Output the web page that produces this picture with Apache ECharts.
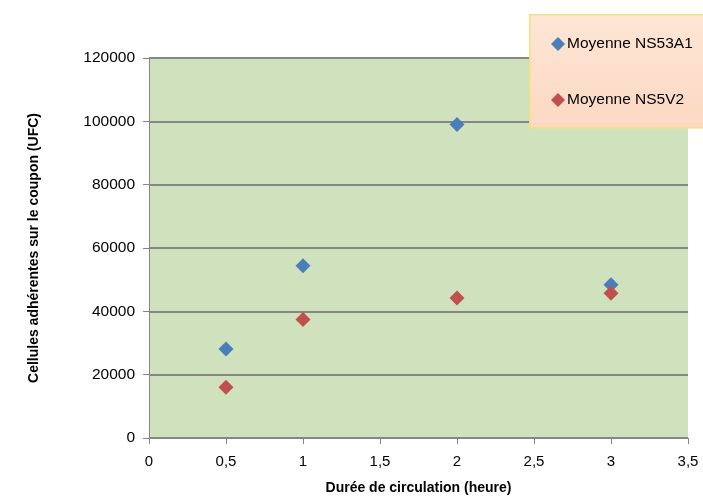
<!DOCTYPE html>
<html>
<head>
<meta charset="utf-8">
<script src="https://cdn.jsdelivr.net/npm/echarts@6/dist/echarts.min.js"></script>
<style>
  html, body { margin: 0; padding: 0; background: #ffffff; }
  #chart { width: 703px; height: 503px; }
</style>
</head>
<body>
<div id="chart"></div>
<script>
// Circulation time (hours) and mean adherent cell counts per strain
const hours = [0.5, 1, 2, 3];
const ns53a1 = [28100, 54400, 99000, 48400];
const ns5v2 = [16000, 37400, 44200, 45700];
const seriesNames = ['Moyenne NS53A1', 'Moyenne NS5V2'];
const xTitle = 'Durée de circulation (heure)';
const yTitle = 'Cellules adhérentes sur le coupon (UFC)';

const FONT = '"Liberation Sans", Arial, sans-serif';

const chart = echarts.init(document.getElementById('chart'), null, { renderer: 'canvas' });

const pairs = vals => hours.map((h, i) => [h, vals[i]]);

chart.setOption({
  animation: false,
  backgroundColor: '#ffffff',
  textStyle: { fontFamily: FONT },
  grid: {
    left: 149, right: 15, top: 58, bottom: 65,
    show: true, backgroundColor: '#cfe2bd', borderWidth: 0
  },
  xAxis: {
    type: 'value', min: 0, max: 3.5, interval: 0.5,
    name: xTitle, nameLocation: 'middle', nameGap: 43,
    nameTextStyle: { fontFamily: FONT, fontSize: 14, fontWeight: 'bold', color: '#000' },
    axisLine: { show: true, lineStyle: { color: '#868686', width: 1 } },
    axisTick: { show: true, length: 6, lineStyle: { color: '#868686' } },
    axisLabel: {
      fontFamily: FONT, fontSize: 15, color: '#000', margin: 16,
      formatter: v => String(v).replace('.', ',')
    },
    splitLine: { show: false }
  },
  yAxis: {
    type: 'value', min: 0, max: 120000, interval: 20000,
    name: yTitle, nameLocation: 'middle', nameGap: 108, nameRotate: 90,
    nameTextStyle: { fontFamily: FONT, fontSize: 14, fontWeight: 'bold', color: '#000' },
    axisLine: { show: true, lineStyle: { color: '#868686', width: 1 } },
    axisTick: { show: true, length: 6, lineStyle: { color: '#868686' } },
    axisLabel: { fontFamily: FONT, fontSize: 15.5, color: '#000', margin: 14, formatter: v => String(v) },
    splitLine: { show: true, lineStyle: { color: '#868686', width: 2 } }
  },
  graphic: [{
    type: 'rect', left: 529, top: 14, z: 5,
    shape: { width: 200, height: 113 },
    style: {
      fill: new echarts.graphic.LinearGradient(0, 0, 0, 1, [
        { offset: 0, color: '#fde6d5' },
        { offset: 1, color: '#fbd8c3' }
      ]),
      stroke: '#f3e27a', lineWidth: 1.5
    }
  }],
  legend: {
    orient: 'vertical', left: 546, top: 31, z: 10,
    itemWidth: 14, itemHeight: 14, itemGap: 40,
    icon: 'diamond',
    itemStyle: { opacity: 1 },
    textStyle: { fontFamily: FONT, fontSize: 15.5, color: '#000', padding: [0, 0, 0, -3] },
    data: seriesNames
  },
  series: [
    {
      name: seriesNames[0], type: 'scatter', symbol: 'diamond', symbolSize: 15,
      itemStyle: { color: '#4a7ebb', opacity: 1 }, data: pairs(ns53a1)
    },
    {
      name: seriesNames[1], type: 'scatter', symbol: 'diamond', symbolSize: 15,
      itemStyle: { color: '#c0504d', opacity: 1 }, data: pairs(ns5v2)
    }
  ]
});
</script>
</body>
</html>
